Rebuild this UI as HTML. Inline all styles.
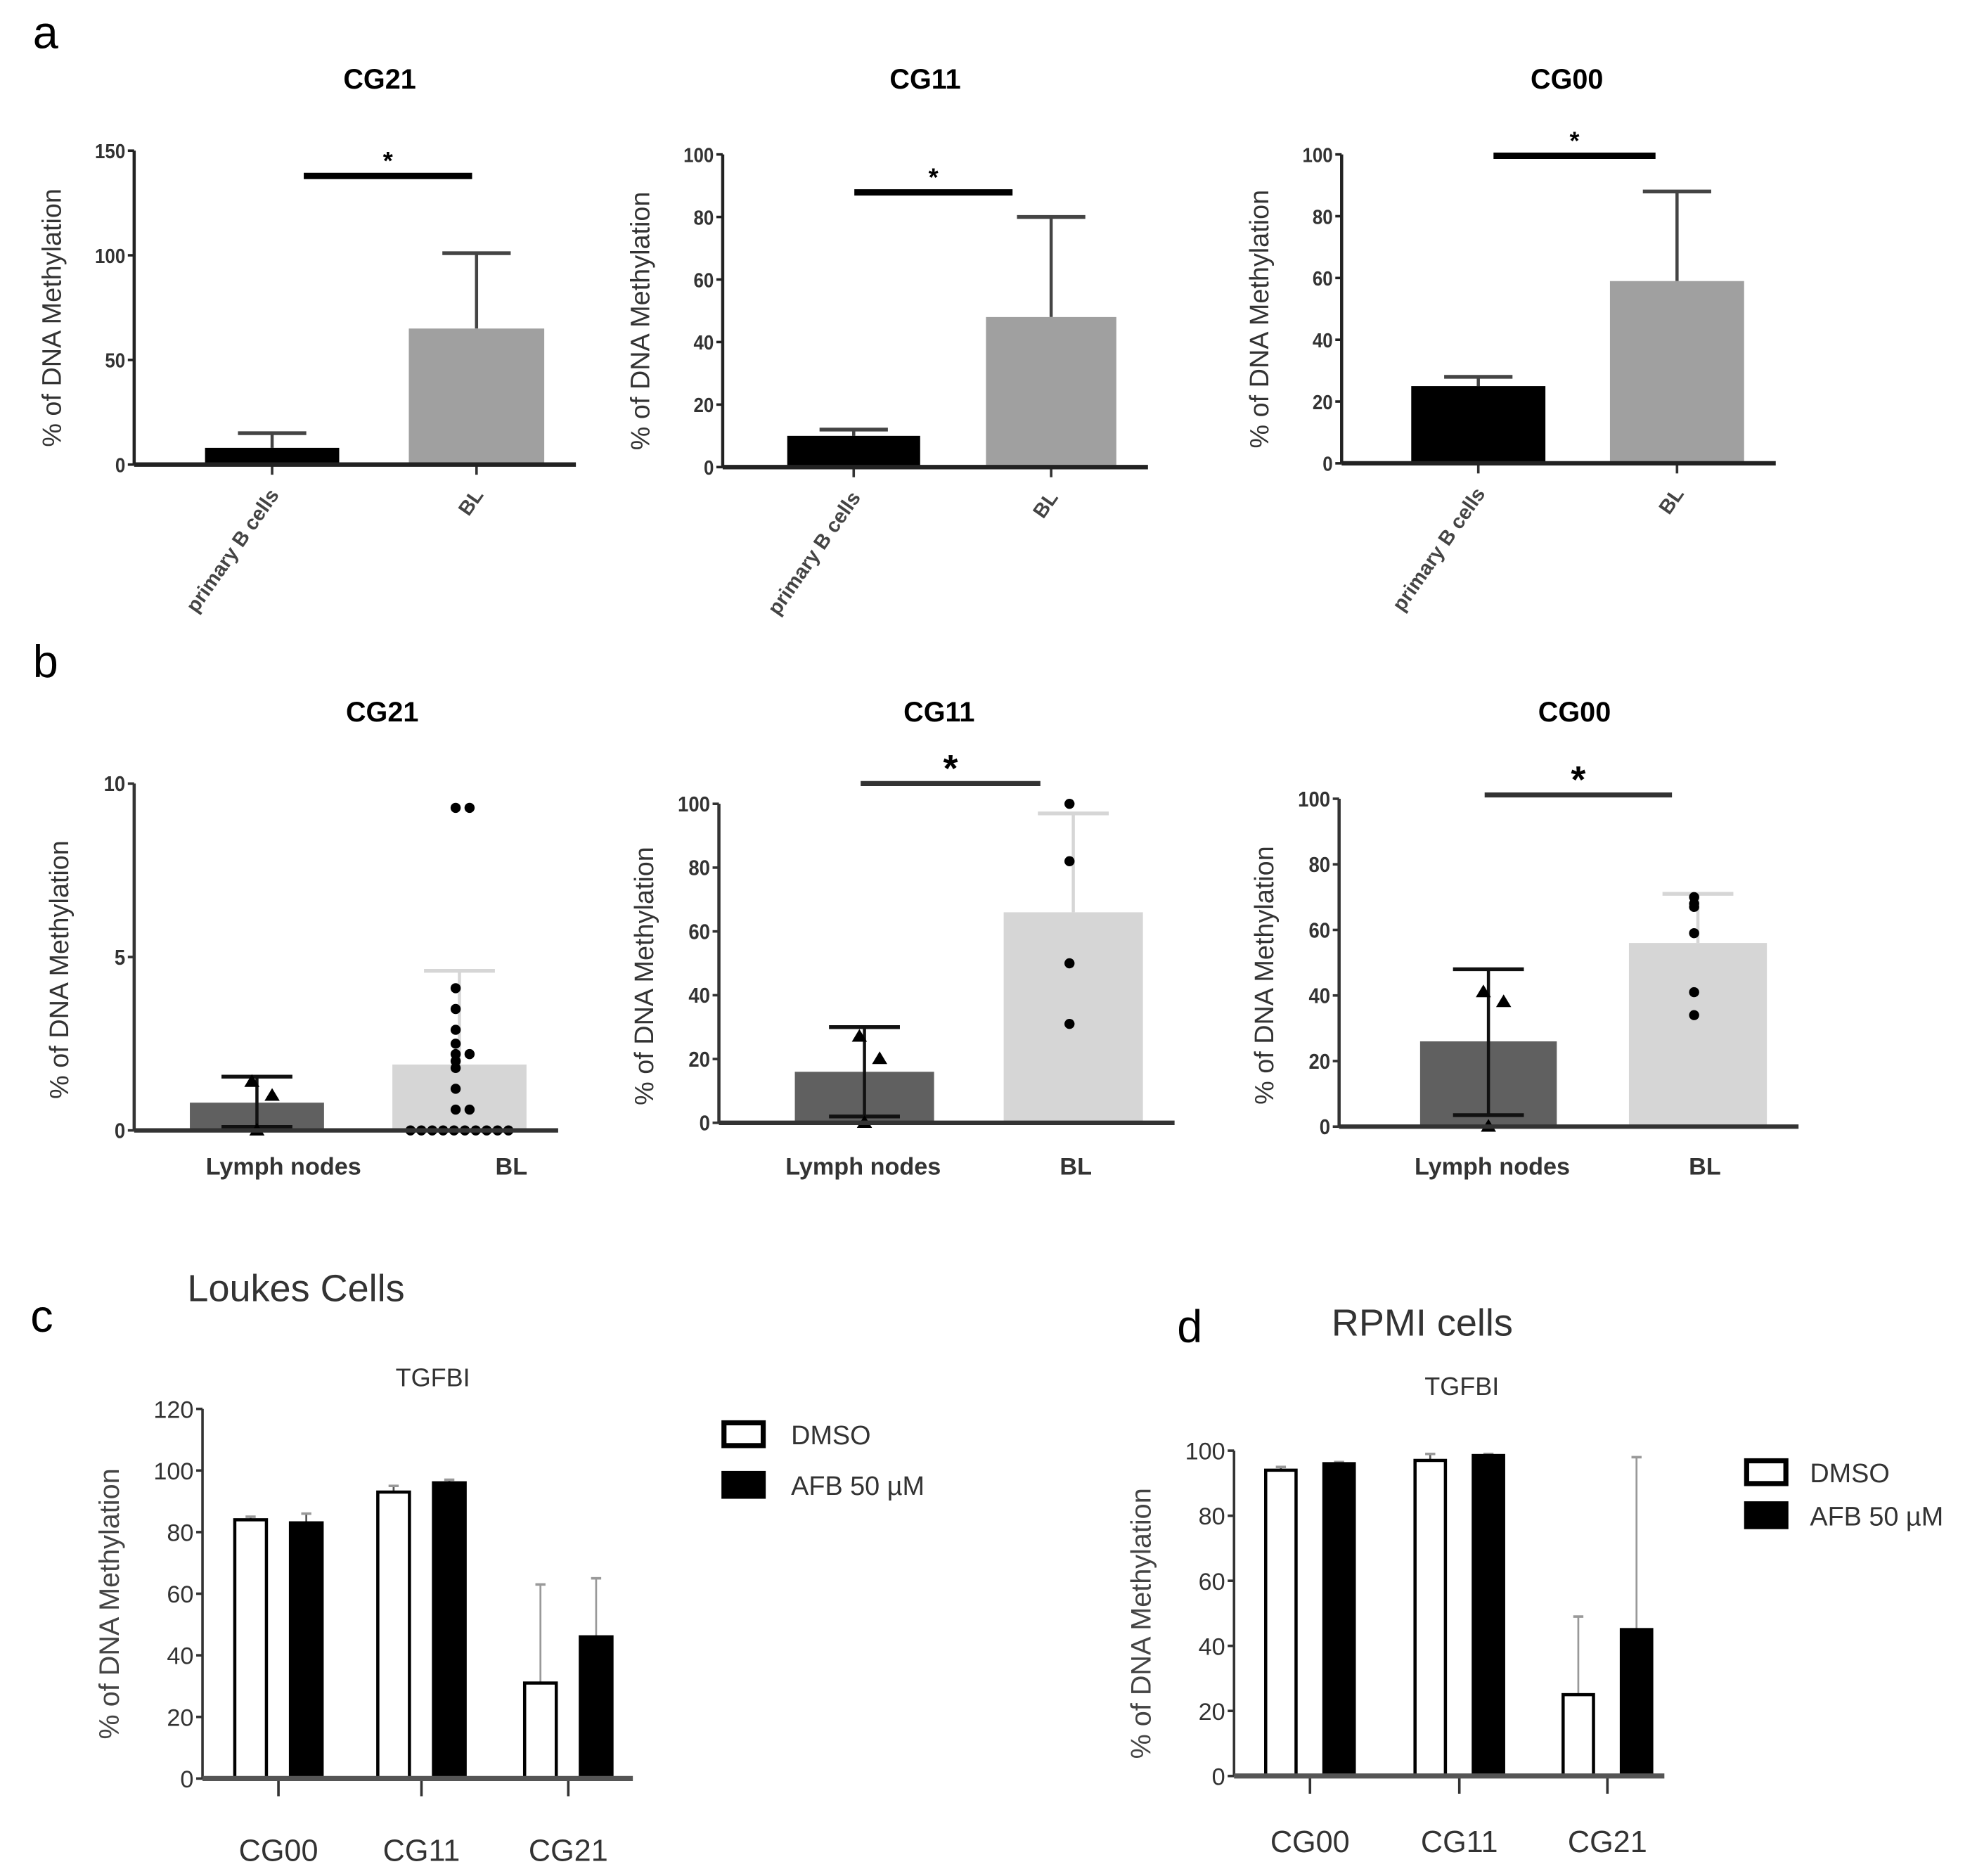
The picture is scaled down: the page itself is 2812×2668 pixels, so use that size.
<!DOCTYPE html>
<html><head><meta charset="utf-8"><style>
html,body{margin:0;padding:0;background:#fff;width:2812px;height:2668px;overflow:hidden}
svg{display:block}
.t{font-family:"Liberation Sans",sans-serif}
.tb{font-family:"Liberation Sans",sans-serif;font-weight:bold}
</style></head><body>
<svg id="fig" width="2812" height="2668" viewBox="0 0 1562 1482" xmlns="http://www.w3.org/2000/svg"></svg>
<script>
// ---------- Panel a data ----------
const aCategories = ["primary B cells", "BL"];
const aTitles = ["CG21", "CG11", "CG00"];
const aMeans = [[8, 65], [10, 48], [25, 59]];
const aErrors = [[15, 101], [12, 80], [28, 88]];
const aTicks = [[0, 50, 100, 150], [0, 20, 40, 60, 80, 100], [0, 20, 40, 60, 80, 100]];
// ---------- Panel b data ----------
const bCategories = ["Lymph nodes", "BL"];
const bTitles = ["CG21", "CG11", "CG00"];
const bMeans = [[0.8, 1.9], [16, 66], [26, 56]];
const bErrUpper = [[1.55, 4.6], [30, 97], [48, 71]];
const bErrLower = [[0.1, 1.9], [2, 66], [3.5, 56]];
const bTicks = [[0, 5, 10], [0, 20, 40, 60, 80, 100], [0, 20, 40, 60, 80, 100]];
const bLymphPoints = [[1.4, 1.0, 0], [27, 20, 0], [41, 38, 0]];
const bBLPoints = [
  [9.3, 9.3, 4.1, 3.5, 2.9, 2.5, 2.2, 2.2, 2.0, 1.8, 1.2, 0.6, 0.6, 0, 0, 0, 0, 0, 0, 0, 0, 0, 0],
  [100, 82, 50, 31],
  [70, 68, 67, 59, 41, 34]
];
// ---------- Panels c/d data ----------
const cdGroups = ["CG00", "CG11", "CG21"];
const cdSeries = ["DMSO", "AFB 50 µM"];
const cDMSO = [84, 93, 31];
const cDMSOErr = [85, 95, 63];
const cAFB = [83, 96, 46];
const cAFBErr = [86, 97, 65];
const dDMSO = [94, 97, 25];
const dDMSOErr = [95, 99, 49];
const dAFB = [96, 98.5, 45];
const dAFBErr = [96.5, 99, 98];
const cTicks = [0, 20, 40, 60, 80, 100, 120];
const dTicks = [0, 20, 40, 60, 80, 100];

const NS = "http://www.w3.org/2000/svg";
const fig = document.getElementById('fig');
function mk(tag, attrs, parent) {
  const el = document.createElementNS(NS, tag);
  for (const k in attrs) el.setAttribute(k, attrs[k]);
  (parent || fig).appendChild(el);
  return el;
}
function txt(s, attrs, parent) { const e = mk('text', attrs, parent); e.textContent = s; return e; }
function scaleY(y0, yTop, max) { return v => y0 - (v / max) * (y0 - yTop); }

for (const [l, x, y] of [["a", 26, 38], ["b", 26, 535], ["c", 24, 1052], ["d", 930, 1060]]) {
  const e = txt(l, {x: x, y: y, class: 't', 'font-size': 36, fill: '#000'});
  
  
}

// ---------- Panel a ----------
const aLayout = [
  {ax: 106, y0: 367, yTop: 119, max: 150, b: [[162, 268], [323, 430]], sig: [240, 373, 139], tx: 300},
  {ax: 571, y0: 369, yTop: 122, max: 100, b: [[622, 727], [779, 882]], sig: [675, 800, 152], tx: 731},
  {ax: 1060, y0: 366, yTop: 122, max: 100, b: [[1115, 1221], [1272, 1378]], sig: [1180, 1308, 123], tx: 1238}
];
aLayout.forEach((L, i) => {
  const g = mk('g', {});
  
  
  const y = scaleY(L.y0, L.yTop, L.max);
  const t = txt(aTitles[i], {x: L.tx, y: 70, class: 'tb', 'font-size': 22, 'text-anchor': 'middle'}, g);
  
  
  const yl = txt('% of DNA Methylation', {x: 0, y: 0, class: 't', 'font-size': 21, fill: '#333', 'text-anchor': 'middle', transform: `translate(${L.ax - 58},${(L.y0 + L.yTop) / 2 + 8}) rotate(-90)`}, g);
  
  
  const colors = ['#000', '#a0a0a0'];
  aMeans[i].forEach((v, j) => {
    const [x1, x2] = L.b[j], cx = (x1 + x2) / 2;
    const er = mk('line', {x1: cx, x2: cx, y1: y(v), y2: y(aErrors[i][j]), stroke: '#444', 'stroke-width': 2.5}, g);
    
    
    mk('line', {x1: cx - 27, x2: cx + 27, y1: y(aErrors[i][j]), y2: y(aErrors[i][j]), stroke: '#444', 'stroke-width': 3}, g);
    const r = mk('rect', {x: x1, y: y(v), width: x2 - x1, height: L.y0 - y(v), fill: colors[j]}, g);
    
    
    mk('line', {x1: cx, x2: cx, y1: L.y0, y2: L.y0 + 8, stroke: '#333', 'stroke-width': 2}, g);
    const xl = txt(aCategories[j], {x: 0, y: 0, class: 'tb', 'font-size': 16, fill: '#444', 'text-anchor': 'end', transform: `translate(${cx + 6},${L.y0 + 24}) rotate(-55)`}, g);
    
    
  });
  mk('line', {x1: L.ax, x2: L.ax, y1: L.yTop, y2: L.y0, stroke: '#222', 'stroke-width': 2.5}, g);
  mk('line', {x1: L.ax, x2: L.b[1][1] + 25, y1: L.y0, y2: L.y0, stroke: '#222', 'stroke-width': 3.5}, g);
  aTicks[i].forEach(tv => {
    mk('line', {x1: L.ax - 5, x2: L.ax, y1: y(tv), y2: y(tv), stroke: '#222', 'stroke-width': 2}, g);
    const tl = txt(tv, {x: L.ax - 7, y: y(tv) + 6, class: 'tb', 'font-size': 16, fill: '#333', 'text-anchor': 'end', 'textLength': String(tv).length * 8, 'lengthAdjust': 'spacingAndGlyphs'}, g);
    
    
  });
  const s = mk('line', {x1: L.sig[0], x2: L.sig[1], y1: L.sig[2], y2: L.sig[2], stroke: '#000', 'stroke-width': 5}, g);
  
  
  txt('*', {x: (L.sig[0] + L.sig[1]) / 2, y: L.sig[2] - 5, class: 'tb', 'font-size': 20, 'text-anchor': 'middle'}, g);
});

// ---------- Panel b ----------
const bLayout = [
  {ax: 106, y0: 893, yTop: 619, max: 10, b: [[150, 256], [310, 416]], sig: null, tx: 302, lx: [224, 404]},
  {ax: 568, y0: 887, yTop: 635, max: 100, b: [[628, 738], [793, 903]], sig: [680, 822, 619], tx: 742, lx: [682, 850]},
  {ax: 1058, y0: 890, yTop: 631, max: 100, b: [[1122, 1230], [1287, 1396]], sig: [1173, 1321, 628], tx: 1244, lx: [1179, 1347]}
];
bLayout.forEach((L, i) => {
  const g = mk('g', {});
  
  
  const y = scaleY(L.y0, L.yTop, L.max);
  const t = txt(bTitles[i], {x: L.tx, y: 570, class: 'tb', 'font-size': 22, 'text-anchor': 'middle'}, g);
  
  
  const yl = txt('% of DNA Methylation', {x: 0, y: 0, class: 't', 'font-size': 21, fill: '#333', 'text-anchor': 'middle', transform: `translate(${L.ax - 52},${(L.y0 + L.yTop) / 2 + 10}) rotate(-90)`}, g);
  
  
  const colors = ['#606060', '#d6d6d6'];
  const ecol = ['#111', '#d6d6d6'];
  bMeans[i].forEach((v, j) => {
    const [x1, x2] = L.b[j], cx = (x1 + x2) / 2;
    const r = mk('rect', {x: x1, y: y(v), width: x2 - x1, height: L.y0 - y(v), fill: colors[j]}, g);
    
    
    const er = mk('line', {x1: cx, x2: cx, y1: y(bErrLower[i][j]), y2: y(bErrUpper[i][j]), stroke: ecol[j], 'stroke-width': 2.5}, g);
    
    
    mk('line', {x1: cx - 28, x2: cx + 28, y1: y(bErrUpper[i][j]), y2: y(bErrUpper[i][j]), stroke: ecol[j], 'stroke-width': 3}, g);
    if (j === 0) mk('line', {x1: cx - 28, x2: cx + 28, y1: y(bErrLower[i][j]), y2: y(bErrLower[i][j]), stroke: '#111', 'stroke-width': 3}, g);
    const xl = txt(bCategories[j], {x: L.lx[j], y: 928, class: 'tb', 'font-size': 19, fill: '#333', 'text-anchor': 'middle'}, g);
    
    
  });
  const cx0 = (L.b[0][0] + L.b[0][1]) / 2;
  bLymphPoints[i].forEach((v, k) => {
    const px = cx0 + (k === 1 ? 12 : (k === 0 ? -4 : 0)), py = y(v);
    const p = mk('path', {d: `M${px},${py - 6} L${px + 6},${py + 4} L${px - 6},${py + 4} Z`, fill: '#000'}, g);
    
    
  });
  const cx1 = (L.b[1][0] + L.b[1][1]) / 2;
  const zeros = bBLPoints[i].filter(v => v === 0).length;
  let zi = 0;
  const seen = {};
  bBLPoints[i].forEach(v => {
    let px;
    if (v === 0 && zeros > 1) { px = cx1 - (zeros - 1) * 4.3 + zi * 8.6; zi++; }
    else { const n = seen[v] || 0; seen[v] = n + 1; px = cx1 + (n % 2 ? 8 : -3) + (n > 1 ? -12 : 0); }
    const c = mk('circle', {cx: px, cy: y(v), r: 4, fill: '#000'}, g);
    
    
  });
  mk('line', {x1: L.ax, x2: L.ax, y1: L.yTop, y2: L.y0, stroke: '#333', 'stroke-width': 2.5}, g);
  mk('line', {x1: L.ax, x2: L.b[1][1] + 25, y1: L.y0, y2: L.y0, stroke: '#333', 'stroke-width': 3.5}, g);
  bTicks[i].forEach(tv => {
    mk('line', {x1: L.ax - 5, x2: L.ax, y1: y(tv), y2: y(tv), stroke: '#333', 'stroke-width': 2}, g);
    const tl = txt(tv, {x: L.ax - 7, y: y(tv) + 6, class: 'tb', 'font-size': 17, fill: '#333', 'text-anchor': 'end', 'textLength': String(tv).length * 8.5, 'lengthAdjust': 'spacingAndGlyphs'}, g);
    
    
  });
  if (L.sig) {
    const s = mk('line', {x1: L.sig[0], x2: L.sig[1], y1: L.sig[2], y2: L.sig[2], stroke: '#333', 'stroke-width': 4}, g);
    
    
    txt('*', {x: (L.sig[0] + L.sig[1]) / 2, y: L.sig[2] - 2, class: 'tb', 'font-size': 30, 'text-anchor': 'middle'}, g);
  }
});

// ---------- Panels c & d ----------
const cdLayout = [
  {id: 'c', ax: 160, y0: 1405, yTop: 1113, max: 120, ticks: cTicks, gx: [220, 333, 449], off: [-22, 22], bw: 25, xEnd: 500, lab: 1462,
   title: 'Loukes Cells', tx: 148, ty: 1028, sub: 342, sy: 1095, leg: [572, 625, 1133, 1173], d: cDMSO, de: cDMSOErr, a: cAFB, ae: cAFBErr},
  {id: 'd', ax: 975, y0: 1403, yTop: 1146, max: 100, ticks: dTicks, gx: [1035, 1153, 1270], off: [-23, 23], bw: 24, xEnd: 1315, lab: 1455,
   title: 'RPMI cells', tx: 1052, ty: 1055, sub: 1155, sy: 1102, leg: [1380, 1430, 1163, 1197], d: dDMSO, de: dDMSOErr, a: dAFB, ae: dAFBErr}
];
cdLayout.forEach(L => {
  const g = mk('g', {});
  
  
  const y = scaleY(L.y0, L.yTop, L.max);
  const t = txt(L.title, {x: L.tx, y: L.ty, class: 't', 'font-size': 30, fill: '#333'}, g);
  
  
  const st = txt('TGFBI', {x: L.sub, y: L.sy, class: 't', 'font-size': 20, fill: '#333', 'text-anchor': 'middle'}, g);
  
  
  const yl = txt('% of DNA Methylation', {x: 0, y: 0, class: 't', 'font-size': 22, fill: '#444', 'text-anchor': 'middle', transform: `translate(${L.ax - 66},${(L.y0 + L.yTop) / 2 + 8}) rotate(-90)`}, g);
  
  
  cdGroups.forEach((grp, k) => {
    const gx = L.gx[k];
    [[L.d, L.de, '#fff'], [L.a, L.ae, '#000']].forEach(([vals, errs, fill], s) => {
      const cx = gx + L.off[s], v = vals[k], e = errs[k];
      const big = e - v > 5;
      const er = mk('line', {x1: cx, x2: cx, y1: y(v), y2: y(e), stroke: big ? '#999' : '#555', 'stroke-width': 1.5}, g);
      
      
      mk('line', {x1: cx - 4, x2: cx + 4, y1: y(e), y2: y(e), stroke: '#999', 'stroke-width': 2}, g);
      const r = mk('rect', {x: cx - L.bw / 2, y: y(v), width: L.bw, height: L.y0 - y(v), fill: fill, stroke: '#000', 'stroke-width': 2.5}, g);
      
      
    });
    mk('line', {x1: gx, x2: gx, y1: L.y0, y2: L.y0 + 14, stroke: '#333', 'stroke-width': 2}, g);
    const xl = txt(grp, {x: gx, y: L.lab + 8, class: 't', 'font-size': 24, fill: '#333', 'text-anchor': 'middle'}, g);
    
    
  });
  mk('line', {x1: L.ax, x2: L.ax, y1: L.yTop, y2: L.y0, stroke: '#333', 'stroke-width': 2}, g);
  mk('line', {x1: L.ax, x2: L.xEnd, y1: L.y0, y2: L.y0, stroke: '#555', 'stroke-width': 4}, g);
  L.ticks.forEach(tv => {
    mk('line', {x1: L.ax - 5, x2: L.ax, y1: y(tv), y2: y(tv), stroke: '#333', 'stroke-width': 2}, g);
    const tl = txt(tv, {x: L.ax - 7, y: y(tv) + 7, class: 't', 'font-size': 19, fill: '#333', 'text-anchor': 'end'}, g);
    
    
  });
  cdSeries.forEach((nm, s) => {
    const lg = mk('g', {}, g);
    
    
    const yy = L.leg[2 + s];
    mk('rect', {x: L.leg[0], y: yy - 9, width: 31, height: 18, fill: s ? '#000' : '#fff', stroke: '#000', 'stroke-width': 4}, lg);
    txt(nm, {x: L.leg[1], y: yy + 8, class: 't', 'font-size': 21, fill: '#333'}, lg);
  });
});
</script>
</body></html>
